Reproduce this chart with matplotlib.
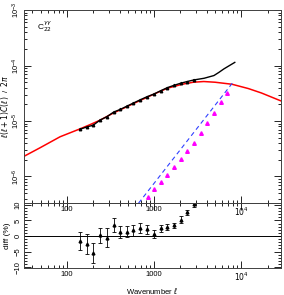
import numpy as np
import matplotlib
matplotlib.use('Agg')
import matplotlib.pyplot as plt
from matplotlib.ticker import FixedLocator, LogLocator, MultipleLocator, NullFormatter

plt.rcParams['font.family'] = ['Liberation Sans', 'DejaVu Sans']
plt.rcParams['mathtext.fontset'] = 'dejavusans'
plt.rcParams['font.size'] = 6
plt.rcParams['xtick.direction'] = 'in'
plt.rcParams['ytick.direction'] = 'in'
plt.rcParams['xtick.top'] = True
plt.rcParams['ytick.right'] = True
plt.rcParams['xtick.major.size'] = 5
plt.rcParams['ytick.major.size'] = 5
plt.rcParams['xtick.minor.size'] = 2.5
plt.rcParams['ytick.minor.size'] = 2.5
plt.rcParams['xtick.major.width'] = 0.6
plt.rcParams['ytick.major.width'] = 0.6
plt.rcParams['xtick.minor.width'] = 0.6
plt.rcParams['ytick.minor.width'] = 0.6
plt.rcParams['xtick.labelsize'] = 5.5
plt.rcParams['ytick.labelsize'] = 5.5
plt.rcParams['xtick.major.pad'] = 2
plt.rcParams['ytick.major.pad'] = 1.5
plt.rcParams['axes.linewidth'] = 0.7
plt.rcParams['axes.edgecolor'] = '#404040'

# theory curve (red)
theory_l = [32.5, 49, 83, 140, 183, 237, 336, 600, 1140, 1416, 2090, 2800, 3700,
            5000, 7800, 12000, 17000, 28500]
theory_v = [2.34e-6, 3.3e-6, 5.2e-6, 7.2e-6, 8.6e-6, 1.03e-5, 1.38e-5, 2.12e-5,
            3.37e-5, 3.9e-5, 4.6e-5, 5.0e-5, 5.15e-5, 5.0e-5, 4.6e-5, 3.85e-5,
            3.2e-5, 2.3e-5]

# measured spectrum (black), binned part then continuation
bin_l = [141, 167, 199, 239, 287, 342, 408, 484, 577, 693, 826, 993, 1180, 1416,
         1688, 2011, 2390, 2849]
bin_v = [7.1e-6, 7.8e-6, 8.4e-6, 1.04e-5, 1.2e-5, 1.45e-5, 1.62e-5, 1.85e-5,
         2.11e-5, 2.42e-5, 2.74e-5, 3.07e-5, 3.5e-5, 4.0e-5, 4.4e-5, 4.8e-5,
         5.15e-5, 5.5e-5]
tail_l = [2849, 3740, 4840, 5500, 6300, 7300, 8400]
tail_v = [5.5e-5, 5.9e-5, 6.6e-5, 7.5e-5, 8.7e-5, 1.0e-4, 1.14e-4]

# noise level (blue dashed) and noise points (magenta)
noise_l = [660, 8100]
noise_v = [3.3e-7, 5.1e-5]
shot_l = [839, 1000, 1190, 1416, 1688, 2011, 2390, 2871, 3420, 4070, 4840, 5820, 6920]
shot_v = [4.33e-7, 5.9e-7, 7.85e-7, 1.06e-6, 1.47e-6, 2.04e-6, 2.88e-6, 4.07e-6,
          6.0e-6, 9.1e-6, 1.38e-5, 2.22e-5, 3.23e-5]

# relative difference (%)
diff = [-1.6, -2.7, -5.6, 0.2, -0.5, 3.5, 1.4, 1.4, 1.8, 2.5, 2.1, 0.5, 2.5, 2.8,
        3.4, 5.2, 7.6, 10.2]
diff_err = [3.0, 3.2, 3.2, 2.3, 3.0, 2.2, 1.9, 1.7, 1.7, 1.6, 1.5, 1.3, 1.1, 0.9,
            0.8, 1.1, 0.8, 0.8]

xticks = [100, 1000, 10000]
xticklabels = ['100', '1000', r'$10^4$']

fig = plt.figure(figsize=(2.84, 2.95), dpi=100)
ax2 = fig.add_axes([0.0845, 0.0915, 0.905, 0.2203])
ax1 = fig.add_axes([0.0845, 0.3119, 0.905, 0.654])
ax1.patch.set_alpha(0)

ax1.plot(theory_l, theory_v, color='#ff0000', lw=1.1, zorder=2)
ax1.plot(noise_l, noise_v, color='#3040ff', lw=0.8, ls=(0, (4, 3)), zorder=2)
ax1.plot(shot_l, shot_v, ls='none', marker='^', ms=2.6, color='#ff00ff', zorder=3)
ax1.plot(tail_l, tail_v, color='black', lw=1.0, zorder=3)
ax1.plot(bin_l, bin_v, color='black', lw=1.0, marker='^', ms=1.8, zorder=3)
ax1.set_yscale('log')
ax1.set_ylim(3.33e-7, 1e-3)
ax1.yaxis.set_minor_locator(LogLocator(base=10, subs=np.arange(2, 10)))
ax1.yaxis.set_minor_formatter(NullFormatter())
ax1.set_ylabel(r'$\ell(\ell+1)C(\ell)$  /  $2\pi$', fontsize=5.5)
ax1.yaxis.set_label_coords(-0.05, 0.5)
ax1.text(0.05, 0.90, r'C$^{\gamma\gamma}_{22}$', transform=ax1.transAxes, fontsize=6)

ax2.errorbar(bin_l, diff, yerr=diff_err, fmt='^', color='black', ms=2, lw=0.6,
             capsize=1.2, capthick=0.6)
ax2.axhline(0, color='black', lw=0.7)
ax2.set_ylim(-10.3, 10.6)
ax2.yaxis.set_major_locator(FixedLocator([-10, -5, 0, 5, 10]))
ax2.yaxis.set_minor_locator(MultipleLocator(1))
ax2.set_ylabel('diff (%)', fontsize=6)
ax2.yaxis.set_label_coords(-0.05, 0.5)
ax2.set_xlabel(r'Wavenumber $\ell$', labelpad=2, fontsize=5.5)

for ax in (ax1, ax2):
    ax.set_xscale('log')
    ax.set_xlim(32, 28500)
    ax.set_xticks(xticks, labels=xticklabels)
    ax.xaxis.set_minor_locator(LogLocator(base=10, subs=np.arange(2, 10)))
    ax.xaxis.set_minor_formatter(NullFormatter())
    plt.setp(ax.get_yticklabels(), rotation=90, va='center')

fig.canvas.draw()
fig.savefig('out.png', dpi=100)
